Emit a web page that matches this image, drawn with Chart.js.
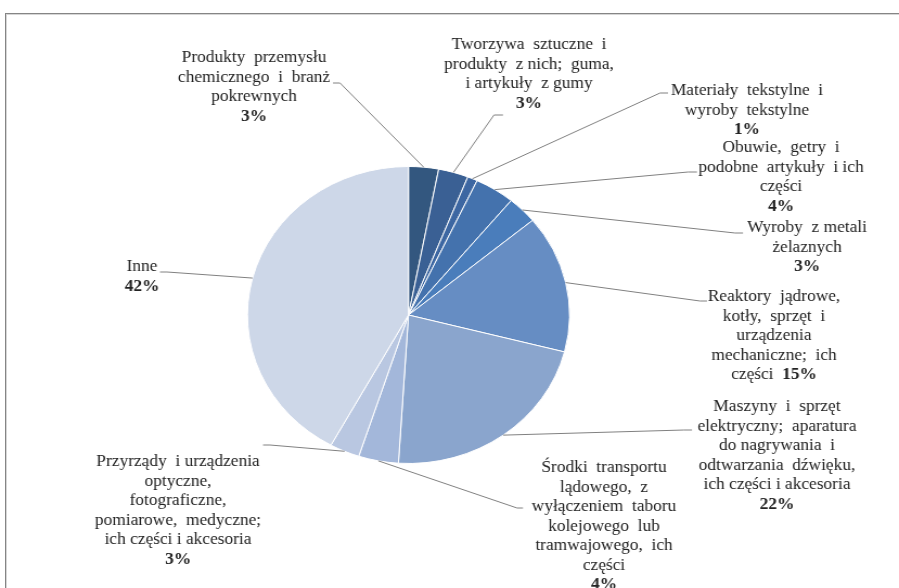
<!DOCTYPE html>
<html>
<head>
<meta charset="utf-8">
<script src="https://cdn.jsdelivr.net/npm/chart.js@4"></script>
<style>
  html, body { margin: 0; padding: 0; background: #fff; overflow: hidden; }
  #frame {
    position: absolute; left: 5px; top: 13px; width: 1000px; height: 700px;
    border-top: 1px solid #858585; border-left: 1px solid #858585;
    box-shadow: inset 1px 1px 0 #d6d6d6;
  }
  #wrap {
    position: absolute; left: 0; top: 0; width: 829px; height: 588px;
    transform: scaleX(1.08444); transform-origin: 0 0;
  }
</style>
</head>
<body>
<div id="frame"></div>
<div id="wrap"><canvas id="chart-1" width="829" height="588"></canvas></div>
<script>
// categories (multi-line) and their shares in %
var categories = [
  ["Produkty  przemysłu", "chemicznego  i  branż", "pokrewnych"],
  ["Tworzywa  sztuczne  i", "produkty  z nich;  guma,", "i artykuły  z gumy"],
  ["Materiały  tekstylne  i", "wyroby  tekstylne"],
  ["Obuwie,  getry  i", "podobne  artykuły  i ich", "części"],
  ["Wyroby  z metali", "żelaznych"],
  ["Reaktory  jądrowe,", "kotły,  sprzęt  i", "urządzenia", "mechaniczne;  ich", "części"],
  ["Maszyny  i  sprzęt", "elektryczny;  aparatura", "do nagrywania  i", "odtwarzania  dźwięku,", "ich części i akcesoria"],
  ["Środki  transportu", "lądowego,  z", "wyłączeniem  taboru", "kolejowego  lub", "tramwajowego,  ich", "części"],
  ["Przyrządy  i urządzenia", "optyczne,", "fotograficzne,", "pomiarowe,  medyczne;", "ich części i akcesoria"],
  ["Inne"]
];
var shares = [3, 3, 1, 4, 3, 15, 22, 4, 3, 42];

var sliceColors = [
  "#33577f", "#3a6094", "#3d67a2", "#4472ad", "#4a7dbb",
  "#668dc3", "#8aa5cd", "#a3b7da", "#b9c7e1", "#cdd7e8"
];

// label placement on the page: text centre / first line y, leader elbow and end
var SX = 899 / 829;
var labelLayout = [
  { cx: 254, y: 58,  ex: 340, ey: 83,  tx: 333, ty: 83 },
  { cx: 529, y: 45,  ex: 494, ey: 115, tx: 503, ty: 115 },
  { cx: 747, y: 91,  ex: 660, ey: 93,  tx: 668, ty: 93 },
  { cx: 781, y: 148, ex: 688, ey: 172, tx: 697, ty: 172 },
  { cx: 807, y: 228, ex: 735, ey: 233, tx: 743, ty: 233 },
  { cx: 774, y: 297, ex: 700, ey: 301, tx: 707, ty: 301, inline: true },
  { cx: 777, y: 407, ex: 684, ey: 430, tx: 692, ty: 430 },
  { cx: 604, y: 468, ex: 517, ey: 508, tx: 523, ty: 508 },
  { cx: 178, y: 462, ex: 270, ey: 445, tx: 263, ty: 445 },
  { cx: 142, y: 267, ex: 167, ey: 272, tx: 160, ty: 272 }
];

var LINE_H = 19.5;
var FONT = "16px 'Liberation Serif', 'Times New Roman', serif";
var FONT_B = "bold 16px 'Liberation Serif', 'Times New Roman', serif";

// draws the callout labels with leader lines
var calloutPlugin = {
  id: "callouts",
  afterDraw: function (chart) {
    var ctx = chart.ctx;
    var arcs = chart.getDatasetMeta(0).data;
    ctx.save();
    arcs.forEach(function (arc, i) {
      var p = arc.getProps(["x", "y", "startAngle", "endAngle", "outerRadius"], true);
      var mid = (p.startAngle + p.endAngle) / 2;
      var sx = p.x + Math.cos(mid) * p.outerRadius;
      var sy = p.y + Math.sin(mid) * p.outerRadius;
      var l = labelLayout[i];

      ctx.strokeStyle = "#808080";
      ctx.lineWidth = 1;
      ctx.beginPath();
      ctx.moveTo(sx, sy);
      ctx.lineTo(l.ex / SX, l.ey);
      ctx.lineTo(l.tx / SX, l.ty);
      ctx.stroke();

      ctx.fillStyle = "#222";
      ctx.textBaseline = "middle";
      var lines = categories[i];
      var pct = shares[i] + "%";
      var cx = l.cx / SX;
      var n = l.inline ? lines.length - 1 : lines.length;
      ctx.font = FONT;
      ctx.textAlign = "center";
      for (var k = 0; k < n; k++) {
        ctx.fillText(lines[k], cx, l.y + k * LINE_H);
      }
      var py = l.y + n * LINE_H;
      if (l.inline) {
        var head = lines[n] + "  ";
        ctx.font = FONT;
        var w1 = ctx.measureText(head).width;
        ctx.font = FONT_B;
        var w2 = ctx.measureText(pct).width;
        var x0 = cx - (w1 + w2) / 2;
        ctx.textAlign = "left";
        ctx.font = FONT;
        ctx.fillText(head, x0, py);
        ctx.font = FONT_B;
        ctx.fillText(pct, x0 + w1, py);
      } else {
        ctx.font = FONT_B;
        ctx.fillText(pct, cx, py);
      }
    });
    ctx.restore();
  }
};

const ctx1 = document.getElementById("chart-1").getContext("2d");
const myChart = new Chart(ctx1, {
  type: "pie",
  data: {
    labels: categories.map(function (c) { return c.join(" "); }),
    datasets: [
      {
        data: shares,
        backgroundColor: sliceColors,
        borderColor: "#ffffff",
        borderWidth: 1
      }
    ]
  },
  options: {
    responsive: false,
    animation: false,
    radius: 148.5,
    layout: {
      padding: { left: 228.2, right: 303.8, top: 166.5, bottom: 124.5 }
    },
    plugins: {
      legend: { display: false },
      tooltip: { enabled: false }
    }
  },
  plugins: [calloutPlugin]
});
</script>
</body>
</html>
